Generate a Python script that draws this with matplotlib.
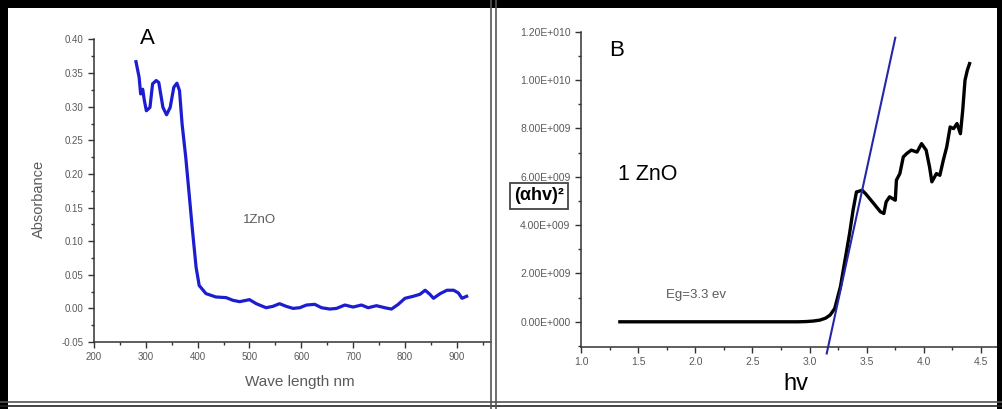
import matplotlib.pyplot as plt
from matplotlib.patches import Rectangle
from matplotlib.lines import Line2D
from matplotlib.ticker import MultipleLocator, FixedLocator

plt.rcParams['font.family'] = ['Liberation Sans', 'DejaVu Sans']

# panel A : absorbance spectrum
wave_a = [281, 287, 290, 294, 297, 301, 308, 313, 320, 325, 333, 340, 347, 354, 360,
          365, 370, 377, 383, 390, 397, 403, 416, 435, 455, 468, 481, 500, 513, 532,
          545, 558, 571, 584, 597, 610, 626, 639, 655, 668, 684, 700, 716, 729, 745,
          761, 774, 787, 800, 816, 829, 839, 848, 855, 868, 881, 894, 903, 910, 919]
absorb_a = [0.367, 0.344, 0.319, 0.326, 0.310, 0.294, 0.299, 0.334, 0.339, 0.336, 0.299,
            0.288, 0.299, 0.329, 0.335, 0.324, 0.274, 0.225, 0.175, 0.116, 0.061, 0.034,
            0.022, 0.017, 0.016, 0.012, 0.010, 0.013, 0.007, 0.001, 0.003, 0.007, 0.003,
            0.000, 0.001, 0.005, 0.006, 0.001, -0.001, 0.000, 0.005, 0.002, 0.005, 0.001,
            0.004, 0.001, -0.001, 0.006, 0.015, 0.018, 0.021, 0.027, 0.021, 0.015, 0.022,
            0.027, 0.027, 0.023, 0.015, 0.018]

# panel B : tauc plot, (alpha h v)^2 in units of 1e9
hv_b = [1.34, 2.90, 2.97, 3.03, 3.09, 3.14, 3.18, 3.22, 3.27, 3.31, 3.35, 3.38, 3.41,
        3.46, 3.49, 3.56, 3.62, 3.65, 3.67, 3.70, 3.75, 3.76, 3.79, 3.82, 3.85, 3.89,
        3.94, 3.98, 4.02, 4.05, 4.07, 4.11, 4.14, 4.17, 4.20, 4.23, 4.26, 4.29, 4.32,
        4.34, 4.36, 4.38, 4.40]
tauc_b = [0, 0, 0.01, 0.03, 0.07, 0.15, 0.28, 0.55, 1.45, 2.55, 3.65, 4.60, 5.37,
          5.44, 5.30, 4.90, 4.55, 4.48, 4.96, 5.17, 5.03, 5.86, 6.13, 6.82, 6.96, 7.10,
          7.02, 7.37, 7.10, 6.40, 5.79, 6.13, 6.06, 6.68, 7.23, 8.06, 7.99, 8.20, 7.78,
          8.75, 9.99, 10.40, 10.68]
# straight line fitted to the absorption edge
fit_hv = [3.15, 3.75]
fit_tauc = [-1.31, 11.75]

yticks_b = [0, 2e9, 4e9, 6e9, 8e9, 1e10, 1.2e10]
ylabels_b = ["0.00E+000", "2.00E+009", "4.00E+009", "6.00E+009",
             "8.00E+009", "1.00E+010", "1.20E+010"]

W, H = 1003, 409
fig = plt.figure(figsize=(W / 100, H / 100), dpi=100)
fig.patch.set_facecolor('white')

gray = '#5a5a5a'
spine = '#333333'


def style(ax):
    for s in ['top', 'right']:
        ax.spines[s].set_visible(False)
    for s in ['left', 'bottom']:
        ax.spines[s].set_color(spine)
        ax.spines[s].set_linewidth(1.1)
    ax.tick_params(which='major', direction='out', length=4, width=1, color=spine,
                   labelcolor=gray)
    ax.tick_params(which='minor', direction='out', length=2.5, width=1, color=spine)


# ---- panel A
axA = fig.add_axes([94 / W, 1 - 342 / H, 397 / W, (342 - 39.5) / H])
axA.plot(wave_a, absorb_a, color='#1c1cd0', lw=2.3, solid_joinstyle='round')
axA.set_xlim(200, 966)
axA.set_ylim(-0.05, 0.40)
axA.xaxis.set_major_locator(FixedLocator([200, 300, 400, 500, 600, 700, 800, 900]))
axA.xaxis.set_minor_locator(MultipleLocator(50))
axA.yaxis.set_major_locator(MultipleLocator(0.05))
axA.yaxis.set_minor_locator(MultipleLocator(0.025))
axA.yaxis.set_major_formatter(lambda v, p: f"{v:.2f}")
style(axA)
axA.tick_params(labelsize=7)
axA.set_xlabel('Wave length nm', fontsize=11, color=gray)
axA.set_ylabel('Absorbance', fontsize=10.5, color=gray)
axA.xaxis.set_label_coords(0.518, -0.108)
axA.yaxis.set_label_coords(-0.12, 0.473)
axA.text(519, 0.132, '1ZnO', fontsize=9.5, color=gray, ha='center', va='center')
fig.text(147 / W, 1 - 38 / H, 'A', fontsize=16, ha='center', va='center')

# ---- panel B
axB = fig.add_axes([581 / W, 1 - 346.7 / H, 420 / W, (346.7 - 31.7) / H])
axB.plot(hv_b, [v * 1e9 for v in tauc_b], color='black', lw=2.4, solid_joinstyle='round')
axB.plot(fit_hv, [v * 1e9 for v in fit_tauc], color='#2626a8', lw=1.5, clip_on=False)
axB.set_xlim(1.0, 4.675)
axB.set_ylim(-1.03e9, 1.2e10)
axB.xaxis.set_major_locator(MultipleLocator(0.5))
axB.xaxis.set_minor_locator(MultipleLocator(0.25))
axB.xaxis.set_major_formatter(lambda v, p: f"{v:.1f}")
axB.set_yticks(yticks_b, ylabels_b)
axB.yaxis.set_minor_locator(MultipleLocator(1e9))
style(axB)
axB.tick_params(labelsize=7.5)
axB.set_xlabel('hv', fontsize=17)
axB.xaxis.set_label_coords(0.512, -0.085)
fig.text(617 / W, 1 - 50 / H, 'B', fontsize=16, ha='center', va='center')
fig.text(648 / W, 1 - 174 / H, '1 ZnO', fontsize=15.5, ha='center', va='center')
fig.text(696 / W, 1 - 295 / H, 'Eg=3.3 ev', fontsize=9.5, color=gray,
         ha='center', va='center')
fig.text(539 / W, 1 - 196 / H, '(αhv)²', fontsize=13, fontweight='bold',
         ha='center', va='center',
         bbox=dict(boxstyle='square,pad=0.25', fc='white', ec='#444444', lw=1.3))

# ---- frame around the picture
fig.add_artist(Rectangle((0, 1 - 8 / H), 1, 8 / H, transform=fig.transFigure,
                         color='black', lw=0))
fig.add_artist(Rectangle((0, 0), 8 / W, 1, transform=fig.transFigure,
                         color='black', lw=0))
fig.add_artist(Rectangle((997 / W, 0), 6 / W, 1, transform=fig.transFigure,
                         color='black', lw=0))
for yy, c in [(402, '#555555'), (406, '#222222')]:
    fig.add_artist(Line2D([0, 1], [1 - yy / H] * 2, transform=fig.transFigure,
                          color=c, lw=1.2))
for xx in [491, 496]:
    fig.add_artist(Line2D([xx / W] * 2, [0, 1], transform=fig.transFigure,
                          color='#555555', lw=1.2))

fig.savefig('out.png', dpi=100)
